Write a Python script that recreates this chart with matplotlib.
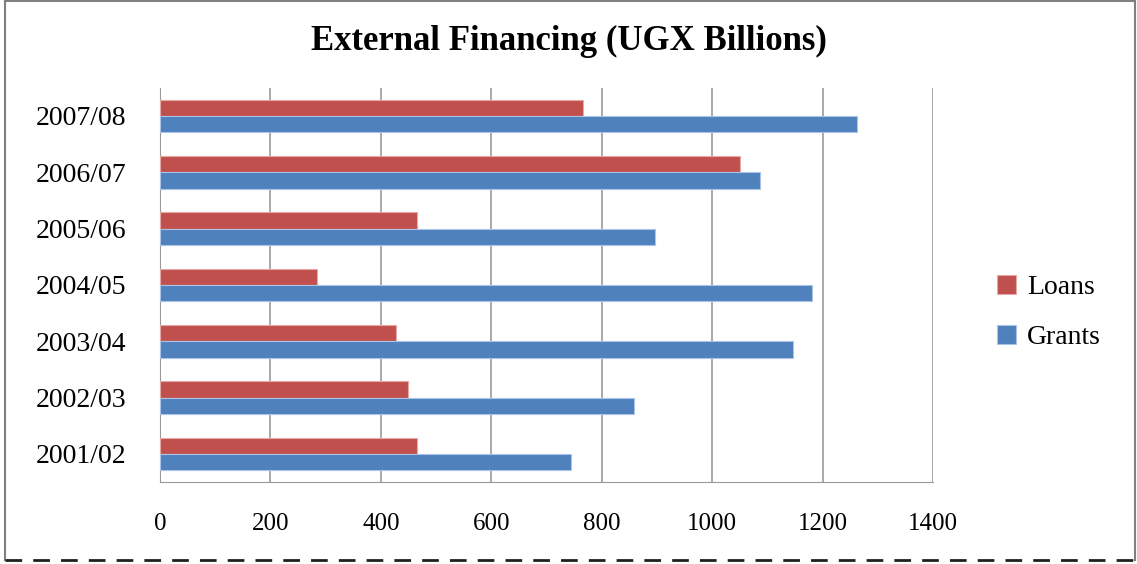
import matplotlib.pyplot as plt
import numpy as np
from matplotlib.lines import Line2D

years = ['2001/02', '2002/03', '2003/04', '2004/05', '2005/06', '2006/07', '2007/08']
loans = [466, 449, 428, 284, 466, 1051, 766]
grants = [745, 859, 1147, 1181, 897, 1087, 1263]

red = '#C0504D'
blue = '#4F81BD'
serif = ['Liberation Serif', 'DejaVu Serif']

fig = plt.figure(figsize=(11.37, 5.64), dpi=100)
ax = fig.add_axes([0.1407, 0.1454, 0.6799, 0.699])

y = np.arange(len(years))
h = 0.29
ax.barh(y + h / 2, loans, height=h, color=red, edgecolor='#E8A8A6', linewidth=0.8, label='Loans', zorder=3)
ax.barh(y - h / 2, grants, height=h, color=blue, edgecolor='#A9C4E6', linewidth=0.8, label='Grants', zorder=3)

ax.set_xlim(0, 1400)
ax.set_ylim(-0.5, 6.5)
ax.set_xticks(range(0, 1401, 200))
ax.set_yticks(y)
ax.set_yticklabels(years, family=serif, fontsize=20)
ax.set_xticklabels([str(v) for v in range(0, 1401, 200)], family=serif, fontsize=18)
ax.grid(axis='x', color='#9a9a9a', linewidth=1.2, zorder=0)
for s in ['top', 'right']:
    ax.spines[s].set_visible(False)
ax.spines['left'].set_color('#9a9a9a')
ax.spines['bottom'].set_color('#9a9a9a')
ax.tick_params(axis='y', length=0, pad=24)
ax.tick_params(axis='x', length=0, pad=22)

fig.text(0.5, 0.926, 'External Financing (UGX Billions)', family=serif, fontsize=25,
         fontweight='bold', ha='center', va='center')

ax.legend(loc='center left', bbox_to_anchor=(1.05, 0.43), frameon=False,
          prop={'family': serif, 'size': 20}, handlelength=0.7, handleheight=0.7,
          labelspacing=0.9, handletextpad=0.4)

# chart frame
fig.add_artist(Line2D([0.004, 0.004], [0.007, 1.0], color='#808080', lw=1.5))
fig.add_artist(Line2D([0.004, 0.998], [0.999, 0.999], color='#808080', lw=1.5))
fig.add_artist(Line2D([0.998, 0.998], [0.007, 1.0], color='#808080', lw=1.5))
fig.add_artist(Line2D([0.004, 0.998], [0.007, 0.007], color='#202020', lw=2, ls=(0, (6, 4))))

fig.savefig('out.png', dpi=100)
